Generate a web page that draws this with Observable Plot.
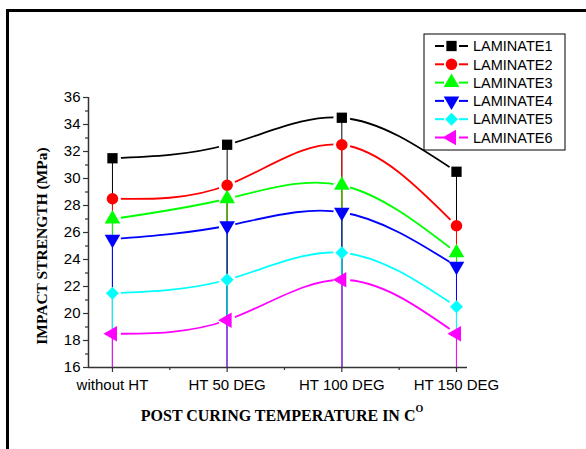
<!DOCTYPE html>
<html>
<head>
<meta charset="utf-8">
<script src="https://cdn.jsdelivr.net/npm/d3@7"></script>
<script src="https://cdn.jsdelivr.net/npm/@observablehq/plot@0.6"></script>
<style>
  html, body { margin: 0; padding: 0; background: #fff; }
  #wrap { position: relative; width: 586px; height: 449px; overflow: hidden; background: #fff; }
  #border { position: absolute; left: 6px; top: 9px; width: 800px; height: 800px; border-left: 3px solid #000; border-top: 3px solid #000; box-sizing: border-box; }
  #chart { position: absolute; left: 0; top: 0; }
  .ytitle { position: absolute; left: 42px; top: 246px; transform: translate(-50%, -50%) rotate(-90deg); white-space: nowrap;
            font: bold 15.5px "Liberation Serif", "Times New Roman", serif; color: #000; }
  .xtitle { position: absolute; left: 282px; top: 415px; transform: translate(-50%, -50%); white-space: nowrap;
            font: bold 16px "Liberation Serif", "Times New Roman", serif; color: #000; }
  .xtitle sup { font-size: 10px; position: relative; top: -2px; }
  #legend { position: absolute; left: 0; top: 0; }
</style>
</head>
<body>
<div id="wrap">
  <div id="border"></div>
  <div id="chart"></div>
  <div class="ytitle">IMPACT STRENGTH (MPa)</div>
  <div class="xtitle">POST CURING TEMPERATURE IN C<sup>O</sup></div>
  <svg id="legend" width="586" height="449"></svg>
</div>
<script>
// ---- data ----
const categories = ["without HT", "HT 50 DEG", "HT 100 DEG", "HT 150 DEG"];
const seriesNames = ["LAMINATE1", "LAMINATE2", "LAMINATE3", "LAMINATE4", "LAMINATE5", "LAMINATE6"];
const laminate1 = [31.5, 32.5, 34.5, 30.5];
const laminate2 = [28.5, 29.5, 32.5, 26.5];
const laminate3 = [27.0, 28.5, 29.5, 24.5];
const laminate4 = [25.5, 26.5, 27.5, 23.5];
const laminate5 = [21.5, 22.5, 24.5, 20.5];
const laminate6 = [18.5, 19.5, 22.5, 18.5];
const yTicks = [16, 18, 20, 22, 24, 26, 28, 30, 32, 34, 36];
const seriesColors = ["#000000", "#ff0000", "#00ff00", "#0000ff", "#00ffff", "#ff00ff"];

// ---- symbols ----
const sqrt3 = Math.sqrt(3);
const triDown = { draw(ctx, size) { const y = -Math.sqrt(size / (sqrt3 * 3));
  ctx.moveTo(0, -2 * y); ctx.lineTo(-sqrt3 * y, y); ctx.lineTo(sqrt3 * y, y); ctx.closePath(); } };
const triLeft = { draw(ctx, size) { const y = -Math.sqrt(size / (sqrt3 * 3));
  ctx.moveTo(2 * y, 0); ctx.lineTo(-y, sqrt3 * y); ctx.lineTo(-y, -sqrt3 * y); ctx.closePath(); } };
const seriesSymbols = [d3.symbolSquare, d3.symbolCircle, d3.symbolTriangle, triDown, d3.symbolDiamond2, triLeft];

const allValues = [laminate1, laminate2, laminate3, laminate4, laminate5, laminate6];
const rows = [];
allValues.forEach((vals, s) => vals.forEach((v, i) => rows.push({ series: seriesNames[s], s, i, cat: categories[i], value: v })));

const xDomain = [-0.209, 3.096];
const yDomain = [16, 36];
const axisColor = "#333";

const marks = [];
// curves
seriesNames.forEach((name, s) => {
  marks.push(Plot.line(rows.filter(r => r.s === s), { x: "i", y: "value", curve: "natural", stroke: seriesColors[s], strokeWidth: 1.8 }));
});
// gaps around markers
marks.push(Plot.dot(rows, { x: "i", y: "value", r: 8.5, fill: "white", stroke: "none" }));
// drop lines
seriesNames.forEach((name, s) => {
  marks.push(Plot.ruleX(rows.filter(r => r.s === s), { x: "i", y1: yDomain[0], y2: "value", stroke: seriesColors[s], strokeWidth: 1 }));
});
// markers
seriesNames.forEach((name, s) => {
  marks.push(Plot.dot(rows.filter(r => r.s === s), { x: "i", y: "value", r: 5.8, symbol: () => seriesSymbols[s], fill: seriesColors[s], stroke: "none" }));
});
// axes
marks.push(Plot.ruleY([yDomain[0]], { stroke: axisColor, strokeWidth: 1.5 }));
marks.push(Plot.ruleX([xDomain[0]], { y1: yDomain[0], y2: yDomain[1], stroke: axisColor, strokeWidth: 1.5 }));
marks.push(Plot.axisY({ ticks: yTicks, tickSize: 5, tickPadding: 3, stroke: axisColor, strokeWidth: 1.2, label: null, fontSize: 15, fill: "#000" }));
marks.push(Plot.axisY({ ticks: d3.range(17, 36, 2), tickSize: 3, text: null, stroke: axisColor, strokeWidth: 1.2, label: null }));
marks.push(Plot.axisX({ ticks: [0, 1, 2, 3], tickFormat: i => categories[i], tickSize: 5, tickPadding: 7, stroke: axisColor, strokeWidth: 1.2, label: null, fontSize: 15, fill: "#000" }));
marks.push(Plot.axisX({ ticks: [0.5, 1.5, 2.5], tickSize: 3, text: null, stroke: axisColor, strokeWidth: 1.2, label: null }));

const chart = Plot.plot({
  width: 586, height: 449,
  marginLeft: 88, marginRight: 119, marginTop: 97, marginBottom: 82,
  x: { domain: xDomain, type: "linear" },
  y: { domain: yDomain },
  style: { fontFamily: '"Liberation Sans", Arial, sans-serif', background: "transparent", overflow: "visible" },
  marks
});
document.getElementById("chart").appendChild(chart);

// ---- legend ----
const lg = d3.select("#legend");
const lx = 424, ly = 34, lw = 141, lh = 116, rowH = 18.3;
lg.append("rect").attr("x", lx).attr("y", ly).attr("width", lw).attr("height", lh)
  .attr("fill", "white").attr("stroke", "#000").attr("stroke-width", 1);
seriesNames.forEach((name, s) => {
  const cy = ly + 12 + s * rowH;
  const g = lg.append("g");
  g.append("line").attr("x1", 435).attr("x2", 444).attr("y1", cy).attr("y2", cy).attr("stroke", seriesColors[s]).attr("stroke-width", 2);
  g.append("line").attr("x1", 459).attr("x2", 468).attr("y1", cy).attr("y2", cy).attr("stroke", seriesColors[s]).attr("stroke-width", 2);
  g.append("path").attr("transform", `translate(451.5,${cy})`).attr("d", d3.symbol(seriesSymbols[s], Math.PI * 5.8 * 5.8)()).attr("fill", seriesColors[s]);
  g.append("text").attr("x", 473).attr("y", cy).attr("dy", "0.36em").text(name)
    .attr("font-family", '"Liberation Sans", Arial, sans-serif').attr("font-size", 14.5).attr("fill", "#000");
});
</script>
</body>
</html>
